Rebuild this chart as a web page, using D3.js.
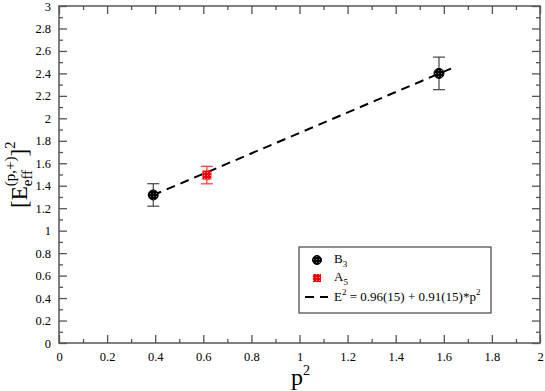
<!DOCTYPE html>
<html>
<head>
<meta charset="utf-8">
<script src="https://cdn.jsdelivr.net/npm/d3@7"></script>
<style>
  body { margin: 0; background: #fff; }
  svg text { font-family: "Liberation Serif", "Times New Roman", Times, serif; fill: #000; }
  .tick text { font-size: 12.5px; }
</style>
</head>
<body>
<div id="chart"></div>
<script>
// data
const seriesB3 = [
  { x: 0.392, y: 1.318, err: 0.10 },
  { x: 1.58,  y: 2.40,  err: 0.145 }
];
const seriesA5 = [
  { x: 0.615, y: 1.495, err: 0.078 }
];
const fitA = 0.96, fitB = 0.91;
const fitRange = [0.39, 1.634];
const xTicks = d3.range(0, 2.01, 0.2);
const yTicks = d3.range(0, 3.01, 0.2);
const xMinor = d3.range(0.1, 2, 0.2);
const yMinor = d3.range(0.1, 3, 0.2);

const width = 545, height = 391;
const margin = { top: 6, right: 5, bottom: 48, left: 59 };
const innerW = width - margin.left - margin.right;
const innerH = height - margin.top - margin.bottom;

const svg = d3.select("#chart").append("svg")
  .attr("width", width).attr("height", height);

// dotted fill for the markers
const defs = svg.append("defs");
const patB = defs.append("pattern").attr("id", "patB")
  .attr("width", 3).attr("height", 3).attr("patternUnits", "userSpaceOnUse");
patB.append("rect").attr("width", 3).attr("height", 3).attr("fill", "#000");
patB.append("rect").attr("x", 1).attr("y", 1).attr("width", 1).attr("height", 1).attr("fill", "#777");
const patA = defs.append("pattern").attr("id", "patA")
  .attr("width", 3).attr("height", 3).attr("patternUnits", "userSpaceOnUse");
patA.append("rect").attr("width", 3).attr("height", 3).attr("fill", "#f00");
patA.append("rect").attr("x", 1).attr("y", 1).attr("width", 1).attr("height", 1).attr("fill", "#f88");

const g = svg.append("g").attr("transform", `translate(${margin.left},${margin.top})`);

const x = d3.scaleLinear().domain([0, 2]).range([0, innerW]);
const y = d3.scaleLinear().domain([0, 3]).range([innerH, 0]);
const fmt = d => d3.format("~g")(+d.toFixed(1));

// axes (inward ticks, mirrored)
const axisStyle = sel => {
  sel.attr("font-family", null);
  sel.select(".domain").remove();
  sel.selectAll(".tick line").attr("stroke", "#555").attr("stroke-width", 1.3);
};
g.append("g").attr("transform", `translate(0,${innerH})`)
  .call(d3.axisBottom(x).tickValues(xTicks).tickSize(-8).tickPadding(9).tickFormat(fmt))
  .call(axisStyle);
g.append("g").attr("transform", `translate(0,${innerH})`)
  .call(d3.axisBottom(x).tickValues(xMinor).tickSize(-4).tickFormat(""))
  .call(axisStyle);
g.append("g")
  .call(d3.axisTop(x).tickValues(xTicks).tickSize(-8).tickFormat(""))
  .call(axisStyle);
g.append("g")
  .call(d3.axisTop(x).tickValues(xMinor).tickSize(-4).tickFormat(""))
  .call(axisStyle);
g.append("g")
  .call(d3.axisLeft(y).tickValues(yTicks).tickSize(-8).tickPadding(8).tickFormat(fmt))
  .call(axisStyle);
g.append("g")
  .call(d3.axisLeft(y).tickValues(yMinor).tickSize(-4).tickFormat(""))
  .call(axisStyle);
g.append("g").attr("transform", `translate(${innerW},0)`)
  .call(d3.axisRight(y).tickValues(yTicks).tickSize(-8).tickFormat(""))
  .call(axisStyle);
g.append("g").attr("transform", `translate(${innerW},0)`)
  .call(d3.axisRight(y).tickValues(yMinor).tickSize(-4).tickFormat(""))
  .call(axisStyle);

g.append("rect").attr("width", innerW).attr("height", innerH)
  .attr("fill", "none").attr("stroke", "#555").attr("stroke-width", 1.5);

// fit line
g.append("line")
  .attr("x1", x(fitRange[0])).attr("y1", y(fitA + fitB * fitRange[0]))
  .attr("x2", x(fitRange[1])).attr("y2", y(fitA + fitB * fitRange[1]))
  .attr("stroke", "#000").attr("stroke-width", 2).attr("stroke-dasharray", "9,6");

// error bars
function errorBars(data, color) {
  const eb = g.append("g").attr("stroke", color).attr("stroke-width", 1.2);
  data.forEach(d => {
    eb.append("line").attr("x1", x(d.x)).attr("x2", x(d.x))
      .attr("y1", y(d.y - d.err)).attr("y2", y(d.y + d.err));
    [d.y - d.err, d.y + d.err].forEach(v => {
      eb.append("line").attr("x1", x(d.x) - 6).attr("x2", x(d.x) + 6)
        .attr("y1", y(v)).attr("y2", y(v));
    });
  });
}
errorBars(seriesB3, "#444");
errorBars(seriesA5, "#f33");

g.selectAll("circle.b3").data(seriesB3).join("circle")
  .attr("class", "b3")
  .attr("cx", d => x(d.x)).attr("cy", d => y(d.y)).attr("r", 5)
  .attr("fill", "url(#patB)").attr("stroke", "#000").attr("stroke-width", 1);

g.selectAll("rect.a5").data(seriesA5).join("rect")
  .attr("class", "a5")
  .attr("x", d => x(d.x) - 4.5).attr("y", d => y(d.y) - 4.5)
  .attr("width", 9).attr("height", 9)
  .attr("fill", "url(#patA)");

// legend
const lg = svg.append("g");
lg.append("rect").attr("x", 299).attr("y", 247).attr("width", 192).attr("height", 66)
  .attr("fill", "#fff").attr("stroke", "#444").attr("stroke-width", 1.2);
lg.append("circle").attr("cx", 317).attr("cy", 260).attr("r", 4.5)
  .attr("fill", "url(#patB)").attr("stroke", "#000");
lg.append("rect").attr("x", 313).attr("y", 274).attr("width", 8).attr("height", 8)
  .attr("fill", "url(#patA)");
lg.append("line").attr("x1", 305).attr("x2", 328).attr("y1", 297).attr("y2", 297)
  .attr("stroke", "#000").attr("stroke-width", 2).attr("stroke-dasharray", "9,6");
const lt = lg.append("g").attr("font-size", 13);
const t1 = lt.append("text").attr("x", 334).attr("y", 263);
t1.append("tspan").text("B");
t1.append("tspan").attr("font-size", 9).attr("dy", 4).text("3");
const t2 = lt.append("text").attr("x", 334).attr("y", 281);
t2.append("tspan").text("A");
t2.append("tspan").attr("font-size", 9).attr("dy", 4).text("5");
const t3 = lt.append("text").attr("x", 334).attr("y", 301);
t3.append("tspan").text("E");
t3.append("tspan").attr("font-size", 9).attr("dy", -6).text("2");
t3.append("tspan").attr("dy", 6).text(` = ${fitA.toFixed(2)}(15) + ${fitB.toFixed(2)}(15)*p`);
t3.append("tspan").attr("font-size", 9).attr("dy", -6).text("2");

// x axis title
const xt = svg.append("text").attr("x", 291).attr("y", 385).attr("font-size", 24);
xt.append("tspan").text("p");
xt.append("tspan").attr("font-size", 14).attr("dy", -10).text("2");

// y axis title
const yt = svg.append("text").attr("transform", "translate(27,208) rotate(-90)")
  .attr("font-size", 23);
yt.append("tspan").text("[E");
const eff = yt.append("tspan").attr("font-size", 15).attr("dy", 5).text("eff");
const effW = eff.node().getComputedTextLength();
yt.append("tspan").attr("font-size", 15).attr("dy", -17).attr("dx", -effW).text("(p,+)");
yt.append("tspan").attr("dy", 12).text("]");
yt.append("tspan").attr("font-size", 15).attr("dy", -12).text("2");
</script>
</body>
</html>
